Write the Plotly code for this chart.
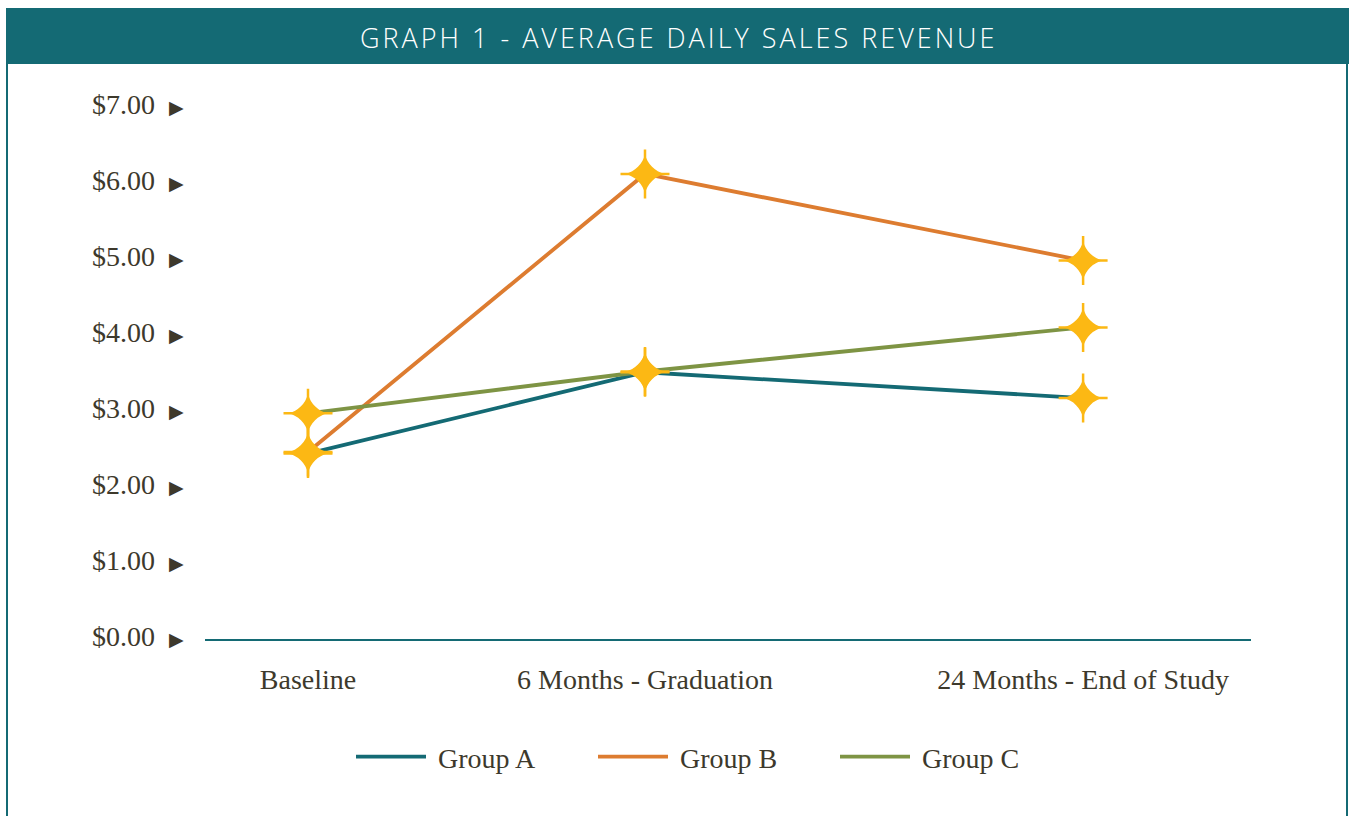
import plotly.graph_objects as go

# ---- data ----
categories = ["Baseline", "6 Months - Graduation", "24 Months - End of Study"]
category_positions = [0.0, 1.0, 2.3]
group_a = [2.40, 3.47, 3.13]
group_b = [2.42, 6.08, 4.94]
group_c = [2.93, 3.48, 4.06]
series_names = ["Group A", "Group B", "Group C"]
y_ticks = [0, 1, 2, 3, 4, 5, 6, 7]
y_tick_labels = ["$0.00", "$1.00", "$2.00", "$3.00", "$4.00", "$5.00", "$6.00", "$7.00"]
title_text = "GRAPH 1 - AVERAGE DAILY SALES REVENUE"

# ---- style ----
W, H = 1351, 816
PL, PR, PT, PB = 205, 1251, 104, 639
TEAL = "#146a74"
ORANGE = "#dd7c30"
GREEN = "#7e9444"
GOLD = "#fcb814"
TXT = "#3d392c"
SERIF = "Liberation Serif, Times New Roman, serif"
colors = [TEAL, ORANGE, GREEN]


def px_x(px):
    return (px - PL) / (PR - PL)


def px_y(py):
    return (PB - py) / (PB - PT)


UNIT = 337.0  # px per x unit
X0 = 308      # screen x of first category

fig = go.Figure()
for name, vals, col in zip(series_names, [group_a, group_b, group_c], colors):
    fig.add_trace(go.Scatter(x=category_positions, y=vals, mode="lines", name="&nbsp;" + name,
                             line=dict(color=col, width=3.8), hoverinfo="skip"))
for vals in [group_a, group_b, group_c]:
    fig.add_trace(go.Scatter(x=category_positions, y=vals, mode="markers", showlegend=False,
                             marker=dict(symbol="cross-thin", size=35, color=GOLD,
                                         line=dict(width=2.5, color=GOLD)), hoverinfo="skip"))
    fig.add_trace(go.Scatter(x=category_positions, y=vals, mode="markers", showlegend=False,
                             marker=dict(symbol="star-diamond", size=28, color=GOLD,
                                         line=dict(width=0)), hoverinfo="skip"))

tick_text = [f"{t}&nbsp;&nbsp;<span style='font-size:19px'>▶</span>" for t in y_tick_labels]

fig.update_layout(
    width=W, height=H,
    margin=dict(l=PL, r=W - PR, t=PT, b=H - PB, pad=0),
    paper_bgcolor="white", plot_bgcolor="white",
    font=dict(family=SERIF, color=TXT, size=28),
    xaxis=dict(range=[(PL - X0) / UNIT, (PR - X0) / UNIT],
               tickvals=category_positions, ticktext=categories,
               showgrid=False, zeroline=False, showline=True, linecolor=TEAL, linewidth=2,
               ticks="", ticklabelstandoff=14, tickfont=dict(size=28, color=TXT)),
    yaxis=dict(range=[-0.04, 7.0], tickvals=y_ticks, ticktext=tick_text,
               showgrid=False, zeroline=False, showline=False,
               ticks="", ticklabelstandoff=20, tickfont=dict(size=28, color=TXT)),
    legend=dict(orientation="h", x=px_x(351), xanchor="left", y=px_y(757), yanchor="middle",
                font=dict(size=28, color=TXT), itemwidth=70, traceorder="normal",
                entrywidth=157, entrywidthmode="pixels",
                bgcolor="rgba(0,0,0,0)"),
    showlegend=True,
)

# header band and frame
fig.add_shape(type="rect", xref="paper", yref="paper",
              x0=px_x(6), x1=px_x(1349), y0=px_y(64), y1=px_y(8),
              fillcolor=TEAL, line=dict(width=0), layer="below")
for xp in (7, 1347):
    fig.add_shape(type="line", xref="paper", yref="paper",
                  x0=px_x(xp), x1=px_x(xp), y0=px_y(64), y1=px_y(830),
                  line=dict(color=TEAL, width=2))
fig.add_annotation(text=f"<span style='letter-spacing:3px'>{title_text}</span>",
                   xref="paper", yref="paper", x=px_x(678), y=px_y(37),
                   xanchor="center", yanchor="middle", showarrow=False,
                   font=dict(family="Open Sans, Lato, sans-serif", size=27, weight=300,
                             color="white"))

fig.write_html("out.html", config={"displayModeBar": False},
               post_script="document.body.style.margin='0';document.body.style.overflow='hidden';")
